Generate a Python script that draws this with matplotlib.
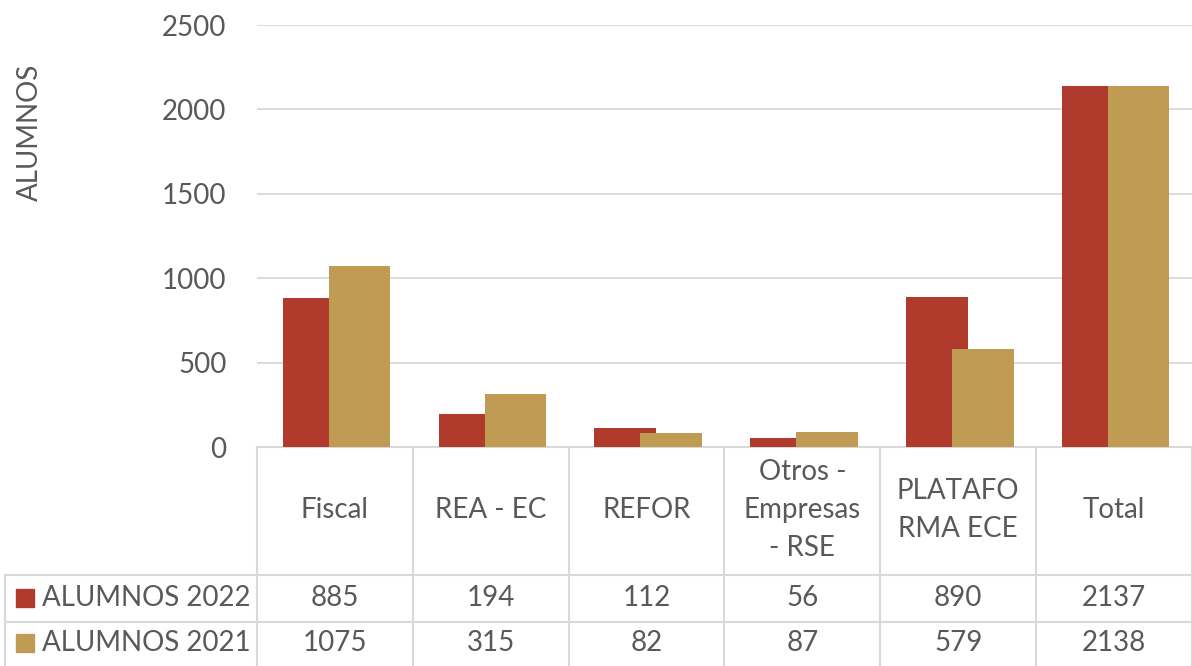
import numpy as np
import matplotlib.pyplot as plt

categories = ['Fiscal', 'REA - EC', 'REFOR', 'Otros -\nEmpresas\n- RSE', 'PLATAFO\nRMA ECE', 'Total']
alumnos_2022 = [885, 194, 112, 56, 890, 2137]
alumnos_2021 = [1075, 315, 82, 87, 579, 2138]
series_names = ['ALUMNOS 2022', 'ALUMNOS 2021']

red = '#B03B2D'
gold = '#BF9B53'
txt = '#595959'
grid_c = '#D9D9D9'
fs = 20

plt.rcParams['font.family'] = ['Lato', 'DejaVu Sans']

W, H = 1192, 666
fig = plt.figure(figsize=(W / 100, H / 100), dpi=100)
# plot area in pixels
x0, x1, y0, y1 = 257, 1192, 447, 25
ax = fig.add_axes([x0 / W, 1 - y0 / H, (x1 - x0) / W, (y0 - y1) / H])

n = len(categories)
x = np.arange(n)
bw = 0.395
ax.bar(x - 0.335, alumnos_2022, width=bw, align='edge', color=red, zorder=2)
ax.bar(x - 0.04, alumnos_2021, width=bw, align='edge', color=gold, zorder=3)

ax.set_xlim(-0.5, n - 0.5)
ax.set_ylim(0, 2500)
ax.set_yticks(range(0, 2501, 500))
ax.yaxis.grid(True, color=grid_c, lw=1.3, zorder=0)
ax.set_xticks([])
for s in ax.spines.values():
    s.set_visible(False)
ax.tick_params(axis='y', length=0, labelsize=fs, labelcolor=txt, pad=22)

fig.text(30 / W, 1 - 132 / H, 'ALUMNOS', rotation=90, ha='center', va='center',
         fontsize=fs, color=txt)

# data table below the axes, in data x / axes-fraction y
col_w = (x1 - x0) / n
def px2x(px):
    return (px - x0) / col_w - 0.5
def py2y(py):
    return (y0 - py) / (y0 - y1)

tr = ax.get_xaxis_transform()
r1, r2, rb = 575, 622, 666
lkw = dict(color=grid_c, lw=1.5, transform=tr, clip_on=False, zorder=1)
ax.plot([-0.5, n - 0.5], [0, 0], **lkw)
for py in (r1, r2):
    ax.plot([px2x(5), n - 0.5], [py2y(py)] * 2, **lkw)
for i in range(n + 1):
    ax.plot([i - 0.5] * 2, [0, py2y(rb)], **lkw)
ax.plot([px2x(5)] * 2, [py2y(r1), py2y(rb)], **lkw)

for i, c in enumerate(categories):
    ax.text(i, py2y(510), c, ha='center', va='center', fontsize=fs, color=txt,
            transform=tr, clip_on=False, linespacing=1.57)

rows_y = [598, 643]
for vals, name, col, py in zip([alumnos_2022, alumnos_2021], series_names, [red, gold], rows_y):
    ax.text(px2x(42), py2y(py), name, ha='left', va='center', fontsize=fs,
            color=txt, transform=tr, clip_on=False)
    fig.patches.append(plt.Rectangle((16 / W, 1 - (py + 9) / H), 18 / W, 18 / H,
                                     color=col, transform=fig.transFigure))
    for i, v in enumerate(vals):
        ax.text(i, py2y(py), str(v), ha='center', va='center', fontsize=fs,
                color=txt, transform=tr, clip_on=False)

fig.savefig('out.png', dpi=100)
